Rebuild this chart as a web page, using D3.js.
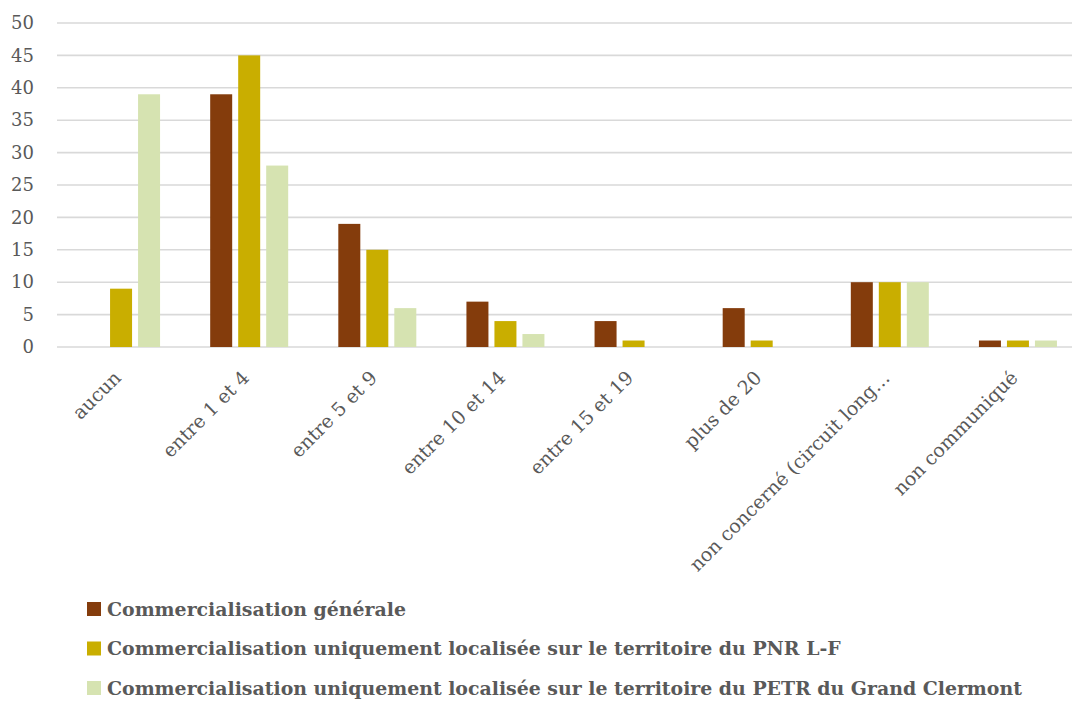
<!DOCTYPE html>
<html>
<head>
<meta charset="utf-8">
<script src="https://cdn.jsdelivr.net/npm/d3@7"></script>
<style>
  html, body { margin: 0; padding: 0; background: #fff; }
  svg { display: block; }
  text { font-family: "DejaVu Serif", "Liberation Serif", serif; fill: #595959; }
</style>
</head>
<body>
<svg id="chart" width="1072" height="702"></svg>
<script>
// Categories (number of outlets) and the three sales-channel series
const categories = [
  "aucun",
  "entre 1 et 4",
  "entre 5 et 9",
  "entre 10 et 14",
  "entre 15 et 19",
  "plus de 20",
  "non concerné (circuit long…",
  "non communiqué"
];
const seriesNames = [
  "Commercialisation générale",
  "Commercialisation uniquement localisée sur le territoire du PNR L-F",
  "Commercialisation uniquement localisée sur le territoire du PETR du Grand Clermont"
];
const generale = [0, 39, 19, 7, 4, 6, 10, 1];
const pnrLF    = [9, 45, 15, 4, 1, 1, 10, 1];
const petrGC   = [39, 28, 6, 2, 0, 0, 10, 1];
const yTicks   = [0, 5, 10, 15, 20, 25, 30, 35, 40, 45, 50];
const colors   = ["#843c0c", "#c9ae00", "#d6e3b1"];

const seriesValues = [generale, pnrLF, petrGC];

const svg = d3.select("#chart");

const plot = { left: 57, right: 1082, top: 23, bottom: 347 };

const x = d3.scaleBand()
  .domain(categories)
  .range([plot.left, plot.right]);

// bars within a category: 22px wide, 6px apart
const xSub = d3.scaleBand()
  .domain(d3.range(seriesNames.length))
  .range([-39, 39])
  .paddingInner(6 / 28);

const y = d3.scaleLinear()
  .domain([0, 50])
  .range([plot.bottom, plot.top]);

// horizontal gridlines
svg.append("g")
  .selectAll("line")
  .data(yTicks)
  .join("line")
  .attr("x1", plot.left)
  .attr("x2", plot.right)
  .attr("y1", d => y(d))
  .attr("y2", d => y(d))
  .attr("stroke", "#d9d9d9")
  .attr("stroke-width", 1.6);

// y axis labels
const yAxis = d3.axisLeft(y).tickValues(yTicks).tickSize(0).tickPadding(0);
const gy = svg.append("g")
  .attr("transform", "translate(34,0)")
  .call(yAxis);
gy.select(".domain").remove();
gy.selectAll("text")
  .attr("fill", "#595959")
  .style("font-family", '"DejaVu Serif", "Liberation Serif", serif')
  .style("font-size", "18px");

// bars
const rows = categories.map((c, i) => ({ cat: c, vals: seriesValues.map(s => s[i]) }));
svg.append("g")
  .selectAll("g")
  .data(rows)
  .join("g")
  .attr("transform", d => `translate(${x(d.cat) + x.bandwidth() / 2},0)`)
  .selectAll("rect")
  .data(d => d.vals.map((v, k) => ({ v, k })))
  .join("rect")
  .filter(d => d.v > 0)
  .attr("x", d => xSub(d.k))
  .attr("width", xSub.bandwidth())
  .attr("y", d => y(d.v))
  .attr("height", d => y(0) - y(d.v))
  .attr("fill", d => colors[d.k]);

// category labels, rotated 45°
svg.append("g")
  .selectAll("text")
  .data(categories)
  .join("text")
  .attr("transform", d => `translate(${x(d) + x.bandwidth() / 2 + 1},379) rotate(-45)`)
  .attr("text-anchor", "end")
  .style("font-size", "19px")
  .text(d => d);

// legend
const legend = svg.append("g")
  .selectAll("g")
  .data(seriesNames)
  .join("g")
  .attr("transform", (d, i) => `translate(87,${609 + i * 39.5})`);
legend.append("rect")
  .attr("x", 0)
  .attr("y", -7)
  .attr("width", 14)
  .attr("height", 14)
  .attr("fill", (d, i) => colors[i]);
legend.append("text")
  .attr("x", 20)
  .attr("dy", "0.35em")
  .style("font-size", "18.9px")
  .style("font-weight", "bold")
  .text(d => d);
</script>
</body>
</html>
